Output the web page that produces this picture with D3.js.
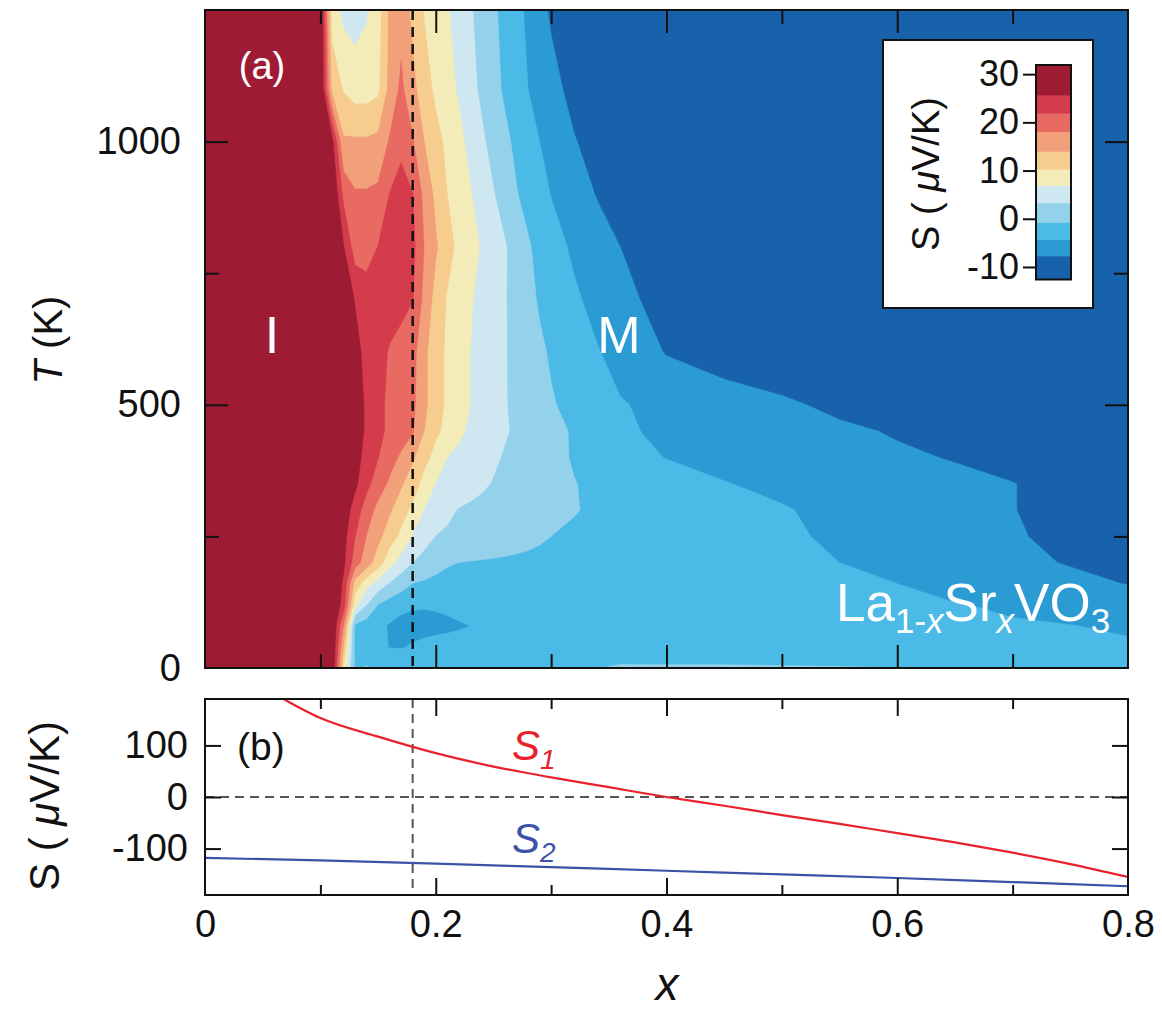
<!DOCTYPE html>
<html>
<head>
<meta charset="utf-8">
<script src="https://cdn.jsdelivr.net/npm/d3@7"></script>
<style>
  body { margin: 0; background: #fff; }
  svg { font-family: "Liberation Sans", Arial, Helvetica, sans-serif; }
</style>
</head>
<body>
<script>
// grid of S (uV/K): columns = x, rows = T (K, bottom to top)
var xCols = [0, 0.05, 0.1, 0.11, 0.12, 0.13, 0.14, 0.15, 0.16, 0.17, 0.18, 0.19, 0.2,
             0.21, 0.22, 0.23, 0.24, 0.25, 0.26, 0.27, 0.28, 0.29, 0.3,
             0.32, 0.34, 0.36, 0.38, 0.4, 0.45, 0.5, 0.55, 0.6, 0.65, 0.7, 0.75, 0.8];
var tRows = [0, 40, 80, 120, 160, 200, 250, 300, 350, 400, 450, 500, 600, 700, 800, 900, 1000, 1100, 1250];
var sGrid = [
  [32, 32, 30, 30, 10, -1.0, -0.5, -1.0, -2.0, -2.3, -2.4, -2.4, -2.3, -2.2, -2.2, -2.2, -2.2, -2.2, -2.2, -2.2, -2.2, -2.2, -2.2, -1.5, -0.8, -0.3, -0.3, -0.3, -0.3, -0.4, -0.5, -0.7, -1.2, -1.6, -2.0, -2.3],
  [32, 32, 30, 30, 14, -1.8, -2.6, -3.5, -4.4, -4.5, -4.0, -3.5, -3.2, -3.0, -2.8, -2.7, -2.6, -2.5, -2.5, -2.5, -2.5, -2.5, -2.5, -2.5, -2.6, -2.6, -2.7, -2.8, -2.9, -3.0, -3.2, -3.4, -3.6, -3.8, -3.9, -4.0],
  [32, 32, 30, 30, 18, -1.5, -2.6, -3.4, -4.6, -5.2, -5.4, -5.4, -5.2, -5.0, -4.7, -4.3, -3.6, -3.0, -2.7, -2.6, -2.6, -2.6, -2.6, -2.7, -2.8, -2.9, -3.0, -3.1, -3.3, -3.5, -3.7, -3.9, -4.0, -4.1, -4.25, -4.6],
  [32, 32, 30, 30, 24, 8, 3.3, -0.8, -2.5, -3.5, -3.9, -4.0, -3.9, -3.6, -3.0, -2.6, -2.4, -2.3, -2.3, -2.3, -2.3, -2.3, -2.4, -2.5, -2.6, -2.7, -2.8, -3.0, -3.2, -3.4, -3.6, -3.9, -4.2, -4.6, -5.2, -5.8],
  [32, 32, 30, 30, 25, 12.5, 8, 5.5, 3, 1, -0.8, -1.3, -1.8, -2.2, -2.4, -2.4, -2.2, -2.0, -1.9, -1.9, -2.0, -2.0, -2.1, -2.2, -2.4, -2.6, -2.8, -3.0, -3.3, -3.6, -4.0, -4.3, -5.2, -6.0, -6.9, -7.8],
  [32, 32, 30, 30, 26.5, 20, 16, 12, 8, 5.5, 3.3, 2.0, 0.8, -0.3, -0.75, -0.9, -1.0, -1.1, -1.2, -1.3, -1.4, -1.5, -1.6, -1.8, -2.0, -2.3, -2.5, -2.7, -3.2, -3.8, -4.3, -5.2, -6.1, -7.0, -7.9, -9.0],
  [32, 32, 30, 30, 27, 22, 18, 15, 12, 9.5, 6.6, 4.7, 3.2, 2.8, 2.4, 2.0, 1.7, 1.3, 0.9, 0.5, 0.1, -0.3, -0.7, -1.0, -1.3, -1.6, -1.9, -2.3, -3.1, -3.9, -4.7, -5.6, -6.5, -7.4, -8.5, -9.5],
  [32, 32, 30, 30, 28, 24, 20, 17, 14.5, 11.8, 9.5, 6.8, 5.4, 4.0, 3.1, 2.7, 2.4, 2.0, 1.6, 1.2, 0.9, 0.5, 0.1, -0.6, -1.0, -1.4, -1.8, -2.2, -3.1, -4.1, -5.0, -5.9, -6.7, -7.6, -9.0, -10.0],
  [32, 32, 30, 30, 29, 26.5, 23, 20, 17.5, 14.5, 12, 9, 6.8, 6.1, 5.3, 4.5, 3.8, 3.1, 2.6, 2.0, 1.5, 0.9, 0.3, -0.6, -1.3, -1.8, -2.3, -2.8, -4.2, -4.9, -5.6, -6.2, -6.9, -7.6, -9.0, -10.0],
  [32, 32, 30, 30, 29.5, 27, 24.5, 22, 19.5, 17.5, 14.5, 11.5, 9, 6.9, 6.1, 5.3, 4.6, 3.8, 3.0, 2.3, 1.6, 0.9, 0.3, -1.0, -1.9, -2.8, -3.7, -4.4, -5.1, -5.8, -6.5, -7.2, -7.9, -9.0, -10.0, -10.5],
  [32, 32, 30, 30, 29.5, 28, 25, 23, 21, 20, 18.5, 14, 11, 9.3, 7.6, 6.3, 5.4, 4.5, 3.6, 2.8, 2.0, 1.2, 0.4, -1.1, -2.3, -3.6, -4.4, -4.7, -5.5, -6.3, -7.1, -8.0, -9.5, -10.5, -11, -11],
  [32, 32, 30, 30, 29.5, 28, 25, 23, 21, 20, 19, 15, 11.5, 9.8, 8.2, 6.9, 5.8, 4.6, 3.5, 2.5, 1.5, 0.6, -0.4, -1.7, -2.9, -4.1, -4.6, -5.0, -6.0, -7.1, -8.5, -10, -10.5, -11, -11, -11],
  [32, 32, 30, 30, 29, 27, 24.5, 23.5, 21.5, 20, 19.5, 15, 11.5, 9.8, 8.2, 6.9, 5.8, 4.6, 3.5, 2.3, 1.1, -0.1, -1.1, -2.6, -4.1, -5.4, -6.6, -7.9, -9.5, -10.5, -11, -11, -11, -11, -11, -11],
  [32, 32, 30, 30, 28, 25.5, 24, 24, 24, 23.5, 22, 17, 12.5, 10, 8.6, 7.2, 5.9, 4.7, 3.5, 2.0, 0.3, -1.1, -2.0, -3.8, -5.3, -6.6, -7.9, -9, -10.5, -11, -11, -11, -11, -11, -11, -11],
  [32, 32, 30, 30, 26, 20, 20, 22, 24, 24, 23, 18, 14.5, 11.5, 9.5, 8, 6.6, 5.1, 3.6, 1.7, -0.3, -1.7, -2.9, -4.9, -6.3, -7.7, -9, -10.5, -11, -11, -11, -11, -11, -11, -11, -11],
  [32, 32, 30, 30, 21, 18.5, 18.5, 19, 22, 24, 22, 17, 13, 10.3, 8.6, 7.1, 5.3, 3.5, 1.5, -0.5, -1.9, -3.1, -4.4, -6.1, -7.9, -9.5, -10.5, -11, -11, -11, -11, -11, -11, -11, -11, -11],
  [32, 32, 30, 27, 14.5, 14.5, 14.5, 15, 18.5, 20.5, 18.5, 14, 11.5, 9.5, 7.8, 5.9, 3.9, 2.0, 0.1, -1.5, -2.9, -4.3, -5.4, -7.5, -9, -10.5, -11, -11, -11, -11, -11, -11, -11, -11, -11, -11],
  [32, 32, 30, 13, 10, 8.6, 8.6, 9.5, 15, 19, 15, 12, 9.5, 8, 6.5, 4.5, 2.5, 0.5, -1.3, -2.8, -4.3, -5.4, -6.6, -8.8, -10, -11, -11, -11, -11, -11, -11, -11, -11, -11, -11, -11],
  [32, 32, 30, 8.5, 6, 5.5, 6.5, 8.6, 14.5, 16.5, 13, 10, 8.5, 7.2, 5.5, 3.7, 1.8, -0.1, -1.8, -3.4, -4.9, -6.6, -8.2, -10, -11, -11, -11, -11, -11, -11, -11, -11, -11, -11, -11, -11]
];

// colour levels (band edges) and fills, lowest band first
var levels = [-7.7, -4.3, -0.7, 3.3, 6.9, 10.3, 14, 18.1, 21.9, 25.7];
var bandColors = ["#1862ab", "#2b9bd3", "#4cbae6", "#94d2ec", "#cfe7f0", "#f3ecb8",
                  "#f7cd8f", "#f1a07a", "#e96a62", "#d43c4c", "#9e1b34"];
var cbMin = -12.6, cbMax = 31.9;
var cbTicks = [-10, 0, 10, 20, 30];

// panel (b)
var s1X = [0.068, 0.1, 0.15, 0.2, 0.25, 0.3, 0.35, 0.4, 0.45, 0.5, 0.55, 0.6, 0.65, 0.7, 0.75, 0.8];
var s1Y = [190, 153, 117, 85, 59, 38, 19, 0, -17, -35, -52, -70, -88, -108, -130, -155];
var s2X = [0, 0.1, 0.2, 0.3, 0.4, 0.5, 0.6, 0.7, 0.8];
var s2Y = [-118, -123, -129, -136, -143, -150, -157, -165, -173];

var xMajor = [0.2, 0.4, 0.6], xMinor = [0.1, 0.3, 0.5, 0.7], xLabels = [0, 0.2, 0.4, 0.6, 0.8];
var tLabels = [0, 500, 1000], tMajor = [500, 1000], tMinor = [250, 750];
var sTicks = [-100, 0, 100];
var xMark = 0.18;

var svg = d3.select("body").append("svg").attr("width", 1162).attr("height", 1012);

var x = d3.scaleLinear().domain([0, 0.8]).range([205, 1128]);
var yT = d3.scaleLinear().domain([0, 1250]).range([668, 10]);
var yS = d3.scaleLinear().domain([-190, 190]).range([895, 699]);

// ---------- panel (a): filled contours ----------
var defs = svg.append("defs");
defs.append("clipPath").attr("id", "clipA").append("rect")
    .attr("x", 205).attr("y", 10).attr("width", 923).attr("height", 658);
defs.append("clipPath").attr("id", "clipB").append("rect")
    .attr("x", 205).attr("y", 699).attr("width", 923).attr("height", 196);

var nx = xCols.length, ny = tRows.length;
var flat = [];
sGrid.forEach(function (r) { r.forEach(function (v) { flat.push(v); }); });

// grid index space -> data space (d3.contours puts value i at i + 0.5)
var colIdx = d3.scaleLinear().domain(xCols.map(function (d, i) { return i + 0.5; })).range(xCols).clamp(true);
var rowIdx = d3.scaleLinear().domain(tRows.map(function (d, i) { return i + 0.5; })).range(tRows).clamp(true);

var contours = d3.contours().size([nx, ny]).thresholds(levels)(flat);
var path = d3.geoPath(d3.geoTransform({
  point: function (px, py) { this.stream.point(x(colIdx(px)), yT(rowIdx(py))); }
}));

var map = svg.append("g").attr("clip-path", "url(#clipA)");
map.append("rect").attr("x", 205).attr("y", 10).attr("width", 923).attr("height", 658)
   .attr("fill", bandColors[0]);
map.selectAll("path.band")
   .data(contours)
   .enter()
   .append("path")
   .attr("class", "band")
   .attr("d", path)
   .attr("fill", function (d, i) { return bandColors[i + 1]; })
   .attr("stroke", function (d, i) { return bandColors[i + 1]; })
   .attr("stroke-width", 0.6);

map.append("line")
   .attr("x1", x(xMark)).attr("x2", x(xMark)).attr("y1", 10).attr("y2", 668)
   .attr("stroke", "#111").attr("stroke-width", 2.5).attr("stroke-dasharray", "10,7");

// white labels in the map
var white = svg.append("g").attr("fill", "#fff");
white.append("text").attr("x", 262).attr("y", 79).attr("text-anchor", "middle")
     .attr("font-size", 38).text("(a)");
white.append("text").attr("x", 272).attr("y", 353).attr("text-anchor", "middle")
     .attr("font-size", 52).text("I");
white.append("text").attr("x", 619).attr("y", 353).attr("text-anchor", "middle")
     .attr("font-size", 52).text("M");
var la = white.append("text").attr("x", 836).attr("y", 621).attr("font-size", 53);
la.append("tspan").text("La");
la.append("tspan").attr("font-size", 35).attr("dy", 12).text("1-");
la.append("tspan").attr("font-size", 35).attr("font-style", "italic").text("x");
la.append("tspan").attr("dy", -12).text("Sr");
la.append("tspan").attr("font-size", 35).attr("font-style", "italic").attr("dy", 12).text("x");
la.append("tspan").attr("dy", -12).text("VO");
la.append("tspan").attr("font-size", 35).attr("dy", 12).text("3");

// colour bar legend
svg.append("rect").attr("x", 883).attr("y", 40).attr("width", 210).attr("height", 268)
   .attr("fill", "#fff").attr("stroke", "#111").attr("stroke-width", 2);
var cb = d3.scaleLinear().domain([cbMin, cbMax]).range([279.5, 65]);
var edges = [cbMin].concat(levels, [cbMax]);
svg.selectAll("rect.cb")
   .data(bandColors)
   .enter()
   .append("rect")
   .attr("class", "cb")
   .attr("x", 1036).attr("width", 35)
   .attr("y", function (d, i) { return cb(edges[i + 1]); })
   .attr("height", function (d, i) { return cb(edges[i]) - cb(edges[i + 1]) + 0.5; })
   .attr("fill", function (d) { return d; });
svg.append("rect").attr("x", 1036).attr("y", 65).attr("width", 35).attr("height", 214.5)
   .attr("fill", "none").attr("stroke", "#111").attr("stroke-width", 2);

function ticks(gen, scale, vals, len, tx, ty, pad, fmt, fs) {
  var ax = gen(scale).tickValues(vals).tickSizeInner(len).tickSizeOuter(0)
    .tickPadding(pad || 0).tickFormat(fmt || function () { return ""; });
  var g = svg.append("g").attr("transform", "translate(" + tx + "," + ty + ")").call(ax);
  g.attr("font-family", null).attr("font-size", fs || 38);
  g.select(".domain").remove();
  g.selectAll(".tick line").attr("stroke", "#111").attr("stroke-width", 2);
  g.selectAll(".tick text").attr("fill", "#111");
  return g;
}
var num = function (d) { return String(d); };

ticks(d3.axisLeft, cb, cbTicks, 13, 1036, 0, 4, num, 36);

// panel (a) frame ticks
ticks(d3.axisBottom, x, xMajor, -23, 0, 668);
ticks(d3.axisBottom, x, xMinor, -14, 0, 668);
ticks(d3.axisTop, x, xMajor, -23, 0, 10);
ticks(d3.axisTop, x, xMinor, -14, 0, 10);
ticks(d3.axisLeft, yT, tMajor, -23, 205, 0);
ticks(d3.axisLeft, yT, tMinor, -14, 205, 0);
ticks(d3.axisLeft, yT, tLabels, 0, 205, 0, 24, num);
ticks(d3.axisRight, yT, tMajor, -23, 1128, 0);
ticks(d3.axisRight, yT, tMinor, -14, 1128, 0);
svg.append("rect").attr("x", 205).attr("y", 10).attr("width", 923).attr("height", 658)
   .attr("fill", "none").attr("stroke", "#111").attr("stroke-width", 2);

// ---------- panel (b) ----------
var pb = svg.append("g").attr("clip-path", "url(#clipB)");
pb.append("line").attr("x1", x(xMark)).attr("x2", x(xMark)).attr("y1", 699).attr("y2", 895)
  .attr("stroke", "#555").attr("stroke-width", 2).attr("stroke-dasharray", "9,6");
pb.append("line").attr("x1", 205).attr("x2", 1128).attr("y1", yS(0)).attr("y2", yS(0))
  .attr("stroke", "#555").attr("stroke-width", 2).attr("stroke-dasharray", "9,6");

var line = d3.line().curve(d3.curveMonotoneX)
  .x(function (d) { return x(d[0]); }).y(function (d) { return yS(d[1]); });
pb.append("path").datum(d3.zip(s1X, s1Y)).attr("d", line)
  .attr("fill", "none").attr("stroke", "#e8212b").attr("stroke-width", 2.2);
pb.append("path").datum(d3.zip(s2X, s2Y)).attr("d", line)
  .attr("fill", "none").attr("stroke", "#3b52a8").attr("stroke-width", 2.2);

ticks(d3.axisBottom, x, xMajor, -17, 0, 895);
ticks(d3.axisBottom, x, xMinor, -10, 0, 895);
ticks(d3.axisBottom, x, xLabels, 0, 0, 895, 15, function (d) { return d === 0 ? "0" : d3.format(".1f")(d); });
ticks(d3.axisTop, x, xMajor, -17, 0, 699);
ticks(d3.axisTop, x, xMinor, -10, 0, 699);
ticks(d3.axisLeft, yS, sTicks, -16, 205, 0, 17, num);
ticks(d3.axisRight, yS, sTicks, -16, 1128, 0);
svg.append("rect").attr("x", 205).attr("y", 699).attr("width", 923).attr("height", 196)
   .attr("fill", "none").attr("stroke", "#111").attr("stroke-width", 2);

svg.append("text").attr("x", 237).attr("y", 760).attr("font-size", 39).attr("fill", "#111").text("(b)");
var s1 = svg.append("text").attr("x", 512).attr("y", 760).attr("font-size", 42)
  .attr("fill", "#e8212b").attr("font-style", "italic");
s1.append("tspan").text("S");
s1.append("tspan").attr("font-size", 28).attr("dy", 9).text("1");
var s2 = svg.append("text").attr("x", 512).attr("y", 853).attr("font-size", 42)
  .attr("fill", "#3b52a8").attr("font-style", "italic");
s2.append("tspan").text("S");
s2.append("tspan").attr("font-size", 28).attr("dy", 9).text("2");

// axis titles
var tt = svg.append("text").attr("transform", "translate(62,340) rotate(-90)")
  .attr("text-anchor", "middle").attr("font-size", 40).attr("fill", "#111");
tt.append("tspan").attr("font-style", "italic").text("T");
tt.append("tspan").text(" (K)");

function sLabel(cx, cy, fs) {
  var t = svg.append("text").attr("transform", "translate(" + cx + "," + cy + ") rotate(-90)")
    .attr("text-anchor", "middle").attr("font-size", fs).attr("fill", "#111");
  t.append("tspan").text("S ( ");
  t.append("tspan").attr("font-style", "italic").text("\u03bc");
  t.append("tspan").text("V/K)");
}
sLabel(59, 806, 42);
sLabel(939, 174, 38);

svg.append("text").attr("x", 667).attr("y", 1000).attr("text-anchor", "middle")
   .attr("font-size", 46).attr("font-style", "italic").attr("fill", "#111").text("x");
</script>
</body>
</html>
